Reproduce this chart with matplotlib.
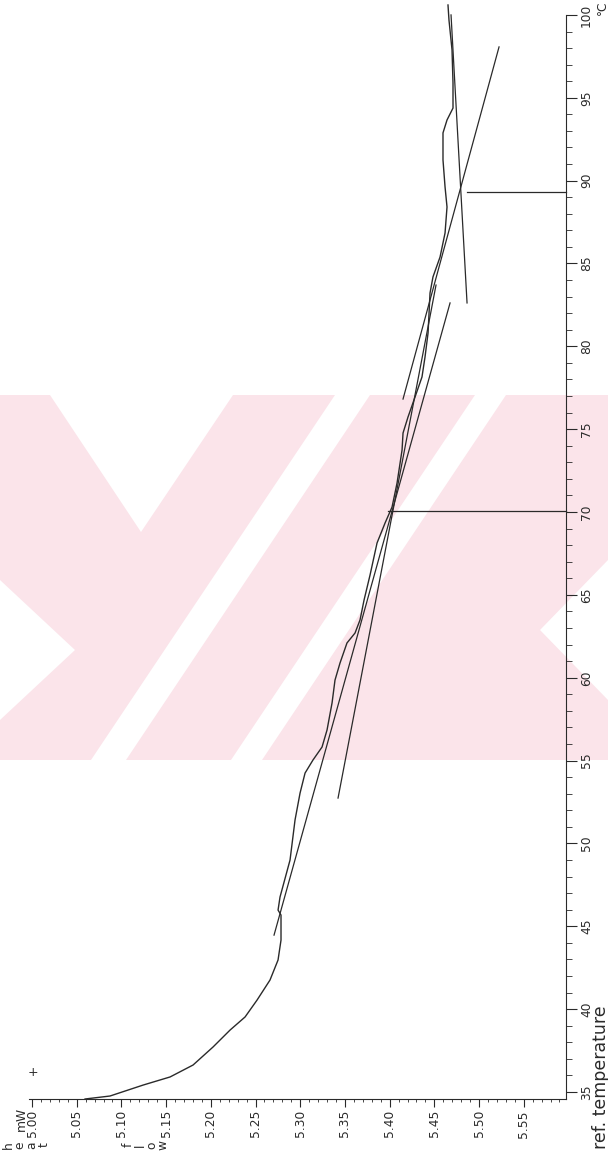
import matplotlib
matplotlib.use("Agg")
import matplotlib.pyplot as plt
from matplotlib.patches import Polygon
from matplotlib.transforms import Affine2D

# DSC trace: heat flow (mW) against reference temperature (degC)
temperature = [34.58, 34.76, 35.42, 35.91, 36.63, 37.72, 38.74, 39.53, 40.55, 41.76,
               42.97, 44.17, 45.68, 45.98, 46.77, 49.00, 51.42, 53.04, 54.25, 55.04,
               55.82, 56.85, 58.48, 59.86, 60.89, 62.10, 62.70, 63.49, 64.69, 66.20,
               68.13, 69.34, 70.30, 71.75, 73.74, 74.77, 75.74, 76.94, 78.15, 79.36,
               80.81, 83.22, 84.19, 85.39, 86.84, 88.41, 89.62, 91.25, 92.88, 93.66,
               94.38, 95.89, 97.89, 99.69, 100.60]
heat_flow = [5.0593, 5.0872, 5.1242, 5.1544, 5.1801, 5.2025, 5.2215, 5.2383, 5.2517, 5.2662,
             5.2752, 5.2785, 5.2785, 5.2752, 5.2774, 5.2886, 5.2942, 5.2998, 5.3054, 5.3143,
             5.3244, 5.3300, 5.3356, 5.3389, 5.3445, 5.3523, 5.3613, 5.3669, 5.3714, 5.3781,
             5.3859, 5.3949, 5.4027, 5.4083, 5.4139, 5.4150, 5.4206, 5.4284, 5.4362, 5.4396,
             5.4430, 5.4452, 5.4485, 5.4564, 5.4620, 5.4642, 5.4620, 5.4597, 5.4597, 5.4642,
             5.4709, 5.4709, 5.4698, 5.4664, 5.4653]

# Evaluation tangents: (heat flow start, heat flow end), (temperature start, temperature end)
tangent_flow = [(5.5224, 5.4150), (5.4687, 5.4866), (5.2707, 5.4676), (5.3423, 5.4519)]
tangent_temp = [(98.07, 76.82), (100.00, 82.62), (44.47, 82.62), (52.74, 83.70)]

# Transition markers drawn from the curve to the temperature axis
marker_temp = [70.06, 89.34]
marker_flow_start = [5.398, 5.486]

flow_ticks = [5.00, 5.05, 5.10, 5.15, 5.20, 5.25, 5.30, 5.35, 5.40, 5.45, 5.50, 5.55]
temp_ticks = [35, 40, 45, 50, 55, 60, 65, 70, 75, 80, 85, 90, 95, 100]

FLOW_MIN, FLOW_MAX = 4.9966, 5.5973
TEMP_MIN, TEMP_MAX = 34.58, 100.72

W, H = 608, 1157
plt.rcParams['font.family'] = ['DejaVu Sans']
fig = plt.figure(figsize=(W / 100, H / 100), dpi=100)
fig.patch.set_facecolor('white')

# pixel-space helper transform for decorations
px = Affine2D().scale(1 / W, -1 / H).translate(0, 1) + fig.transFigure

# light background emblem: a pink band crossed by diagonal white cut-outs
pink = '#fbe4ea'
top, bot = 395, 760
fig.patches.append(Polygon([(0, top), (W, top), (W, bot), (0, bot)], closed=True,
                           transform=px, facecolor=pink, edgecolor='none', zorder=-6))
cuts = [
    [(50, top), (233, top), (141, 532)],
    [(335, top), (370, top), (126, bot), (91, bot)],
    [(475, top), (506, top), (262, bot), (231, bot)],
    [(0, 580), (75, 650), (0, 720)],
    [(W, 560), (540, 630), (W, 700)],
]
for poly in cuts:
    fig.patches.append(Polygon(poly, closed=True, transform=px, facecolor='white',
                               edgecolor='none', zorder=-5))

ax = fig.add_axes([29 / W, 1 - 1099 / H, (566 - 29) / W, (1099 - 3) / H])
ax.set_zorder(2)
ax.set_facecolor('none')
ax.set_xlim(FLOW_MIN, FLOW_MAX)
ax.set_ylim(TEMP_MIN, TEMP_MAX)

ink = '#2a2a2a'
ax.plot(heat_flow, temperature, color=ink, lw=1.0, clip_on=False)
for (f0, f1), (t0, t1) in zip(tangent_flow, tangent_temp):
    ax.plot([f0, f1], [t0, t1], color=ink, lw=0.9, clip_on=False)
for t, f0 in zip(marker_temp, marker_flow_start):
    ax.plot([f0, FLOW_MAX], [t, t], color=ink, lw=0.9, clip_on=False)

for s in ('left', 'top'):
    ax.spines[s].set_visible(False)
ax.spines['right'].set_bounds(TEMP_MIN, 100)
ax.spines['bottom'].set_color(ink)
ax.spines['right'].set_color(ink)

ax.yaxis.tick_right()
ax.set_xticks(flow_ticks)
ax.set_xticklabels([f'{v:.2f}' for v in flow_ticks])
ax.set_xticks([5.00 + 0.01 * i for i in range(60) if i % 5], minor=True)
ax.set_yticks(temp_ticks)
ax.set_yticklabels([str(v) for v in temp_ticks])
ax.set_yticks([v for v in range(35, 101) if v % 5], minor=True)

ax.tick_params(axis='x', which='major', direction='out', length=6, width=0.8,
               colors=ink, labelsize=8.8, labelrotation=90, pad=2)
ax.tick_params(axis='x', which='minor', direction='out', length=2, width=0.6, colors=ink)
ax.tick_params(axis='y', which='major', direction='out', length=8, width=0.8,
               colors=ink, labelsize=8.8, labelrotation=90, pad=2)
ax.tick_params(axis='y', which='minor', direction='out', length=4, width=0.6, colors=ink)
for lab in ax.get_yticklabels():
    lab.set_verticalalignment('center')

# axis captions
txt = dict(transform=px, color=ink, rotation=90, ha='center', va='center',
           rotation_mode='anchor')
fig.text(21, 1119, 'mW', fontsize=8.8, **txt)
fig.text(602, 8, '°C', fontsize=8.8, **txt)
fig.text(601, 1077, 'ref. temperature', fontsize=12.5, **txt)
for ch, x in zip('heatflow', [8, 20, 32, 44, 128, 140, 152, 163]):
    fig.text(x, 1145, ch, fontsize=8.8, **txt)
fig.text(33, 1072, '+', fontsize=9, transform=px, color=ink, ha='center', va='center')

fig.savefig('out.png', dpi=100, facecolor='white')
